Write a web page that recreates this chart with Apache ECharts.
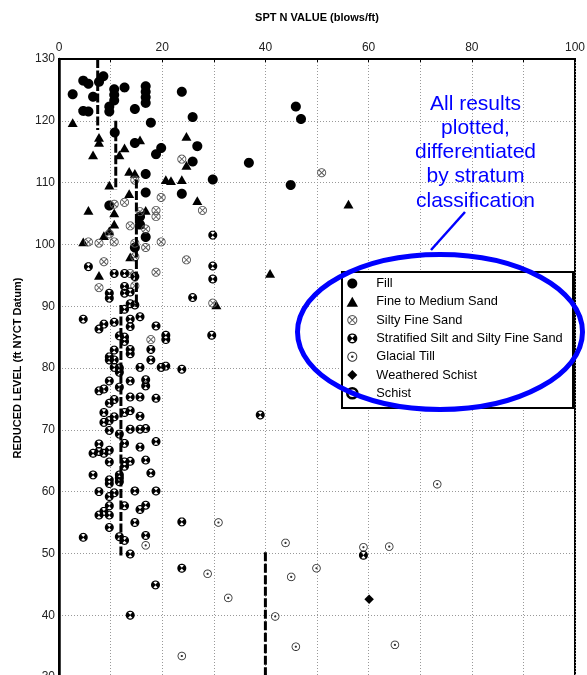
<!DOCTYPE html>
<html><head><meta charset="utf-8">
<script src="https://cdn.jsdelivr.net/npm/echarts@6/dist/echarts.min.js"></script>
<style>html,body{margin:0;padding:0;background:#fff}#c{width:587px;height:675px}</style>
</head><body><div id="c"></div>
<script>
// ---- data: [SPT N value, reduced level] ----
const fillPts = [[8.6,130.3],[4.7,126.5],[5.7,126],[7.75,126.3],[8.6,127.2],[2.65,124.3],[6.6,123.9],[10.7,125.1],[10.7,124.2],[10.7,123.3],[12.7,125.4],[16.8,125.6],[16.8,124.7],[16.8,123.8],[16.8,122.9],[4.7,121.6],[5.7,121.5],[9.75,122.3],[9.75,121.5],[14.7,121.9],[17.8,119.7],[23.8,124.7],[25.9,120.6],[10.8,118.1],[14.7,116.4],[19.8,115.6],[18.8,114.6],[26.8,115.9],[25.9,113.4],[45.9,122.3],[46.9,120.3],[36.8,113.2],[29.8,110.5],[23.8,108.2],[44.9,109.6],[16.8,111.4],[16.8,108.4],[9.75,106.3],[15.7,104.5],[15.7,103.2],[16.8,101.2],[14.7,99.5]];
const sandPts = [[2.65,119.7],[7.75,117.3],[7.75,116.5],[6.6,114.5],[11.7,114.5],[12.7,115.6],[15.7,116.9],[24.7,117.5],[24.7,112.8],[13.6,111.8],[14.7,111.5],[9.75,109.6],[20.7,110.5],[21.7,110.3],[23.8,110.5],[13.6,108.2],[26.8,107.1],[5.7,105.5],[10.7,105.1],[16.8,105.5],[10.7,103.3],[15.7,103.3],[9.75,102.2],[8.7,101.4],[4.7,100.4],[13.8,98],[7.75,95],[56.1,106.5],[40.9,95.3],[30.5,90.2]];
const siltySandPts = [[23.8,113.8],[14.7,110.4],[10.7,106.5],[12.7,106.8],[19.8,107.6],[27.8,105.5],[15.7,105.3],[18.8,105.5],[18.8,104.5],[13.8,103],[16.8,102.5],[9.75,101.7],[5.7,100.4],[7.75,100.2],[10.7,100.4],[14.7,100.2],[19.8,100.4],[16.8,99.5],[24.7,97.5],[8.7,97.2],[14.7,98],[18.8,95.5],[13.8,95.3],[7.75,93],[14.7,93.3],[17.8,84.6],[50.9,111.6],[29.8,90.5]];
const stratifiedPts = [[5.7,96.4],[10.7,95.3],[12.7,95.3],[12.7,93.2],[14.7,94.8],[9.75,92.1],[9.75,91.3],[12.7,92.1],[13.8,92.3],[13.8,90.4],[14.7,90.2],[12.7,89.5],[25.9,91.4],[4.7,87.9],[8.7,87.1],[7.75,86.3],[10.7,87.4],[13.8,87.9],[15.7,88.3],[13.8,86.7],[18.8,86.8],[11.7,85.2],[12.7,85],[12.7,84.3],[20.7,85.3],[20.7,84.6],[10.7,82.9],[9.75,81.8],[9.75,81.3],[10.7,81.3],[13.8,83],[13.8,82.3],[17.8,83],[17.8,81.3],[10.7,80.1],[11.7,80],[11.7,79.3],[15.7,80.1],[19.8,80.1],[20.7,80.3],[23.8,79.8],[9.75,77.9],[13.8,77.9],[11.7,76.9],[7.75,76.3],[8.7,76.6],[16.8,78.1],[16.8,77.1],[9.75,74.3],[10.7,74.9],[13.8,75.3],[15.7,75.3],[18.8,75.1],[8.7,72.8],[10.7,72.1],[12.7,72.8],[13.8,73.1],[15.7,72.2],[8.7,71.2],[9.75,71.5],[9.75,69.9],[11.7,69.3],[13.8,70.1],[15.7,70.1],[16.8,70.2],[18.8,68.1],[7.75,67.7],[12.7,67.8],[6.6,66.2],[7.75,66.5],[8.7,66.2],[9.75,66.7],[15.7,67.2],[9.75,64.8],[12.7,64.8],[12.7,64.1],[13.8,64.9],[16.8,65.1],[17.8,63],[6.6,62.7],[11.7,62.7],[11.7,62.2],[11.7,61.6],[9.75,61.9],[9.75,61.3],[7.75,60],[10.7,59.8],[9.75,59.2],[14.7,60.1],[18.8,60.1],[9.75,57.7],[8.7,56.8],[7.75,56.2],[9.75,56.2],[12.7,57.7],[15.7,57.1],[16.8,57.8],[14.7,55],[9.75,54.2],[23.8,55.1],[4.7,52.6],[11.7,52.7],[12.7,52.1],[16.8,52.9],[13.8,49.9],[23.8,47.6],[18.7,44.9],[59,49.7],[13.8,40],[29.8,101.5],[29.8,96.5],[29.8,94.4],[29.6,85.3],[39,72.4]];
const tillPts = [[30.9,55],[43.9,51.7],[59,51],[64,51.1],[49.9,47.6],[45,46.2],[28.8,46.7],[32.8,42.8],[41.9,39.8],[45.9,34.9],[65.1,35.2],[23.8,33.4],[73.3,61.2],[16.8,51.3]];
const weatheredPts = [[60.1,42.6]];
const schistPts = [];
// design profile segments: [N, top level, bottom level]
const designN = [7.5, 11, 15, 12, 40];
const designTop = [130, 120, 110.5, 90.2, 50.2];
const designBottom = [118.5, 108.8, 89.9, 49.5, 25];
const seriesNames = ['Fill','Fine to Medium Sand','Silty Fine Sand','Stratified Silt and Silty Fine Sand','Glacial Till','Weathered Schist','Schist'];
const xTicks = [0,20,40,60,80,100];

// ---- symbol shapes ----
function ring(r, rev, cx, cy, a0, a1, apex) {
  const n = 40, pts = [];
  a0 = (a0 === undefined) ? 0 : a0; a1 = (a1 === undefined) ? Math.PI*2 : a1;
  const full = Math.abs(a1 - a0 - Math.PI*2) < 1e-6;
  const steps = full ? n : Math.max(8, Math.round(n*(a1-a0)/(Math.PI*2)));
  for (let i = 0; i < (full ? steps : steps+1); i++) {
    const a = a0 + (a1-a0)*i/steps;
    pts.push([(cx||0) + r*Math.cos(a), (cy||0) + r*Math.sin(a)]);
  }
  if (apex) pts.push(apex);
  if (rev) pts.reverse();
  return 'M' + pts.map(p => p[0].toFixed(3)+' '+p[1].toFixed(3)).join(' L') + ' Z ';
}
function bar(angle, L, w) {
  const c = Math.cos(angle), s = Math.sin(angle);
  const loc = [[-L,-w],[L,-w],[L,w],[-L,w]];
  return 'M' + loc.map(p => (p[0]*c - p[1]*s).toFixed(3)+' '+(p[0]*s + p[1]*c).toFixed(3)).join(' L') + ' Z ';
}
const D = Math.PI/180;
const symCircle = 'path://' + ring(1);
const symTri = 'path://M0 -1 L1 0.75 L-1 0.75 Z';
const symSilty = 'path://' + ring(1) + ring(0.8, true) + bar(45*D, 0.82, 0.1) + bar(-45*D, 0.82, 0.1);
const symStrat = 'path://' + ring(1) + ring(0.74, true, 0, 0, -128*D, -52*D, [0,-0.08]) + ring(0.74, true, 0, 0, 52*D, 128*D, [0,0.08]);
const symTill = 'path://' + ring(1) + ring(0.8, true) + ring(0.26);
const symDiamond = 'path://M0 -1 L1 0 L0 1 L-1 0 Z';

function scat(name, data, symbol, size, color, extra) {
  return { type:'scatter', name, data, symbol, symbolSize:size, symbolKeepAspect:true,
    itemStyle:Object.assign({color, opacity:1, borderWidth:0}, extra || {}), z:3, silent:true };
}
const series = [
  scat(seriesNames[0], fillPts, symCircle, 10, '#000'),
  scat(seriesNames[1], sandPts, symTri, 10, '#000'),
  scat(seriesNames[2], siltySandPts, symSilty, 9, '#555'),
  scat(seriesNames[3], stratifiedPts, symStrat, 9, '#000'),
  scat(seriesNames[4], tillPts, symTill, 8.5, '#333'),
  scat(seriesNames[5], weatheredPts, symDiamond, 9.5, '#000'),
  scat(seriesNames[6], schistPts, 'circle', 7, '#fff', {borderColor:'#000', borderWidth:2.5})
];
designN.forEach((n, i) => {
  series.push({ type:'line', name:'design'+i, data:[[n, designTop[i]], [n, designBottom[i]]],
    symbol:'none', silent:true, z:4,
    lineStyle:{color:'#000', width:3, type:[9,2.5]} });
});
const legendItems = [
  {icon:symCircle, itemStyle:{color:'#000', borderWidth:0}},
  {icon:symTri, itemStyle:{color:'#000', borderWidth:0}},
  {icon:symSilty, itemStyle:{color:'#555', borderWidth:0}},
  {icon:symStrat, itemStyle:{color:'#000', borderWidth:0}},
  {icon:symTill, itemStyle:{color:'#333', borderWidth:0}},
  {icon:symDiamond, itemStyle:{color:'#000', borderWidth:0}},
  {icon:'circle', itemStyle:{color:'#fff', borderColor:'#000', borderWidth:2.6}}
];

const chart = echarts.init(document.getElementById('c'), null, {renderer:'canvas'});
chart.setOption({
  animation:false,
  backgroundColor:'#fff',
  grid:{left:59, top:59, width:516, height:618, show:true, borderColor:'#000', borderWidth:2, outerBoundsMode:'none', containLabel:false},
  xAxis:{type:'value', position:'top', min:0, max:100, interval:10,
    name:'SPT N VALUE (blows/ft)', nameLocation:'middle', nameGap:36,
    nameTextStyle:{fontFamily:'Arial, Liberation Sans', fontWeight:'bold', fontSize:11, color:'#000'},
    axisLine:{show:true, lineStyle:{color:'#000', width:2}},
    axisTick:{show:true, inside:true, length:3, lineStyle:{color:'#000'}},
    axisLabel:{margin:5, fontFamily:'Arial, Liberation Sans', fontSize:12, color:'#222', showMinLabel:true, showMaxLabel:true,
      formatter: v => xTicks.indexOf(v) >= 0 ? String(v) : ''},
    splitLine:{show:true, lineStyle:{color:'#999', type:[1,2], width:1}}
  },
  yAxis:{type:'value', min:30, max:130, interval:10,
    name:'REDUCED LEVEL (ft NYCT Datum)', nameLocation:'middle', nameGap:36, nameRotate:90,
    nameTextStyle:{fontFamily:'Arial, Liberation Sans', fontWeight:'bold', fontSize:11, color:'#000'},
    axisLine:{show:true, lineStyle:{color:'#000', width:2.5}},
    axisTick:{show:false},
    axisLabel:{margin:4, fontFamily:'Arial, Liberation Sans', fontSize:12, color:'#222', showMinLabel:true, showMaxLabel:true},
    splitLine:{show:true, lineStyle:{color:'#999', type:[1,2], width:1}}
  },
  legend:{data:seriesNames.map((n, i) => Object.assign({name:n}, legendItems[i])),
    orient:'vertical', left:346, top:277, padding:0,
    itemWidth:20, itemHeight:10, itemGap:5.3, selectedMode:false, z:5,
    textStyle:{fontFamily:'Arial, Liberation Sans', fontSize:12.8, color:'#000', lineHeight:13, padding:[0,0,0,9]}
  },
  graphic:[
    {type:'rect', shape:{x:342, y:272, width:231, height:136}, style:{fill:'#fff', stroke:'#000', lineWidth:2}, z:4, silent:true},
    {type:'ellipse', shape:{cx:440, cy:332, rx:142.5, ry:77.5}, style:{fill:'none', stroke:'#0000ff', lineWidth:5}, z:20, silent:true},
    {type:'line', shape:{x1:465, y1:212, x2:431, y2:250}, style:{stroke:'#0000ff', lineWidth:2.5}, z:20, silent:true},
    {type:'text', x:475.5, y:92, z:20, silent:true, style:{text:'All results\nplotted,\ndifferentiated\nby stratum\nclassification',
      font:'21px Arial, "Liberation Sans"', fill:'#0000ff', align:'center', verticalAlign:'top', lineHeight:24.2}}
  ],
  series
});
</script></body></html>
